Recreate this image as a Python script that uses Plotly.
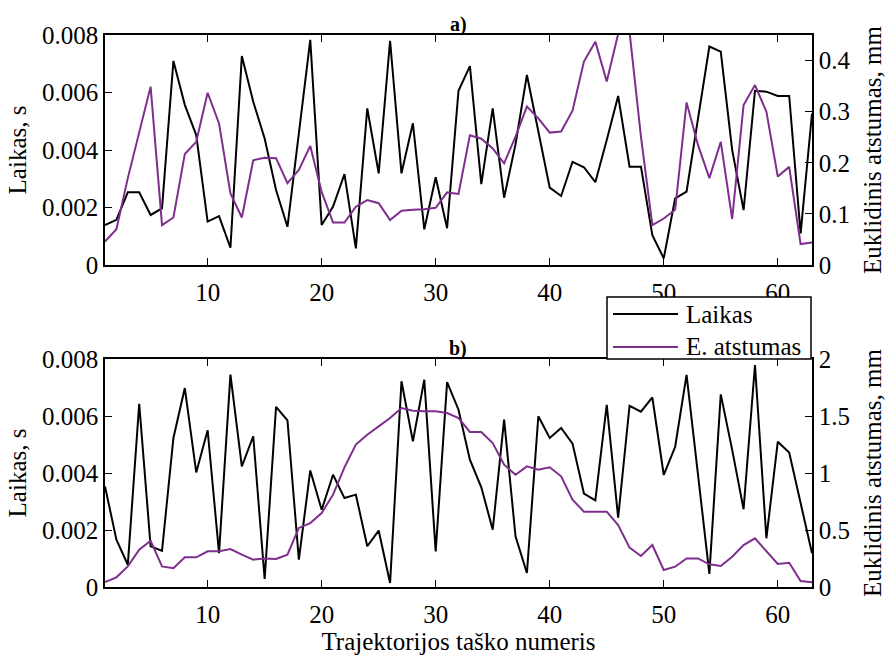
import plotly.graph_objects as go
from plotly.subplots import make_subplots

# Trajectory point numbers
taskai = list(range(1, 64))

# a) computation time (s) and Euclidean distance (mm)
laikas_a = [0.00139, 0.00157, 0.00253, 0.00253, 0.00174, 0.00197, 0.0071, 0.00557, 0.00452, 0.00151,
            0.0017, 0.0006, 0.00727, 0.00568, 0.0044, 0.00261, 0.00133, 0.0046, 0.00783, 0.00139,
            0.00203, 0.00316, 0.00058, 0.00545, 0.00319, 0.0078, 0.00319, 0.00493, 0.00124, 0.00305,
            0.00128, 0.00606, 0.00692, 0.00281, 0.00545, 0.00234, 0.0042, 0.00661, 0.00465, 0.00269,
            0.0024, 0.00359, 0.0034, 0.00288, 0.00435, 0.00588, 0.00342, 0.00342, 0.00104, 0.00023,
            0.00232, 0.00255, 0.00508, 0.0076, 0.00742, 0.0040, 0.00191, 0.00606, 0.00603, 0.00588,
            0.00588, 0.0011, 0.00527]
atstumas_a = [0.046, 0.070, 0.17, 0.26, 0.349, 0.078, 0.093, 0.217, 0.241, 0.337,
              0.277, 0.140, 0.093, 0.205, 0.210, 0.209, 0.160, 0.186, 0.233, 0.143,
              0.083, 0.083, 0.114, 0.127, 0.121, 0.088, 0.106, 0.108, 0.109, 0.112,
              0.142, 0.139, 0.254, 0.247, 0.228, 0.199, 0.251, 0.310, 0.287, 0.259,
              0.261, 0.302, 0.398, 0.437, 0.359, 0.452, 0.456, 0.251, 0.078, 0.091,
              0.108, 0.318, 0.235, 0.170, 0.241, 0.090, 0.313, 0.352, 0.300, 0.173,
              0.192, 0.041, 0.044]

# b) computation time (s) and Euclidean distance (mm)
laikas_b = [0.00353, 0.00166, 0.00078, 0.00643, 0.00143, 0.00127, 0.00523, 0.00698, 0.00402, 0.0055,
            0.00119, 0.00745, 0.00423, 0.00529, 0.00028, 0.00632, 0.00585, 0.00096, 0.00409, 0.00271,
            0.00394, 0.00312, 0.00324, 0.00143, 0.00198, 0.00014, 0.00722, 0.00511, 0.00727, 0.00125,
            0.00719, 0.00622, 0.00447, 0.0035, 0.00201, 0.00587, 0.00178, 0.00049, 0.00599, 0.00523,
            0.00558, 0.00503, 0.00328, 0.00304, 0.00639, 0.00243, 0.00636, 0.00615, 0.00665, 0.00393,
            0.00492, 0.00744, 0.00395, 0.00046, 0.00676, 0.00481, 0.00273, 0.00779, 0.00171, 0.0051,
            0.00472, 0.00294, 0.00118]
atstumas_b = [0.044, 0.085, 0.181, 0.327, 0.406, 0.181, 0.164, 0.26, 0.26, 0.313,
              0.313, 0.333, 0.284, 0.24, 0.251, 0.246, 0.284, 0.518, 0.561, 0.649,
              0.81, 1.05, 1.249, 1.336, 1.409, 1.482, 1.57, 1.547, 1.541, 1.541,
              1.526, 1.482, 1.36, 1.36, 1.263, 1.073, 0.985, 1.058, 1.029, 1.05,
              0.971, 0.766, 0.661, 0.661, 0.661, 0.544, 0.345, 0.272, 0.368, 0.149,
              0.178, 0.251, 0.251, 0.199, 0.184, 0.266, 0.368, 0.427, 0.316, 0.202,
              0.213, 0.053, 0.041]

x_ticks = [10, 20, 30, 40, 50, 60]
laikas_ticks = [0, 0.002, 0.004, 0.006, 0.008]
atstumas_ticks_a = [0, 0.1, 0.2, 0.3, 0.4]
atstumas_ticks_b = [0, 0.5, 1, 1.5, 2]

serijos = ["Laikas", "E. atstumas"]

JUODA = "#000000"
VIOLETINE = "#7E2F8E"
FONT = "Liberation Serif"
FS = 25

fig = make_subplots(rows=2, cols=1, specs=[[{"secondary_y": True}], [{"secondary_y": True}]])

fig.add_trace(go.Scatter(x=taskai, y=laikas_a, mode="lines", name=serijos[0],
                         line=dict(color=JUODA, width=2)),
              row=1, col=1, secondary_y=False)
fig.add_trace(go.Scatter(x=taskai, y=atstumas_a, mode="lines", name=serijos[1],
                         line=dict(color=VIOLETINE, width=2)),
              row=1, col=1, secondary_y=True)
fig.add_trace(go.Scatter(x=taskai, y=laikas_b, mode="lines", name=serijos[0],
                         line=dict(color=JUODA, width=2)),
              row=2, col=1, secondary_y=False)
fig.add_trace(go.Scatter(x=taskai, y=atstumas_b, mode="lines", name=serijos[1],
                         line=dict(color=VIOLETINE, width=2)),
              row=2, col=1, secondary_y=True)

W, H = 887, 657
x0, x1 = 105 / W, 812 / W
ya = [1 - 265 / H, 1 - 35 / H]
yb = [1 - 587 / H, 1 - 359 / H]

txt = dict(family=FONT, size=FS, color="black")

xcommon = dict(range=[1, 63], tickvals=x_ticks, ticks="inside", ticklen=7, tickcolor="black",
               showline=True, linecolor="black", linewidth=1.5, mirror="ticks",
               showgrid=False, zeroline=False, domain=[x0, x1], automargin=False,
               tickfont=txt, ticklabelstandoff=4)
ycommon = dict(ticks="inside", ticklen=7, tickcolor="black", showline=True, linecolor="black",
               linewidth=1.5, showgrid=False, zeroline=False, automargin=False,
               tickfont=txt)

# Boxed legend placed over the top edge of the lower panel
px = lambda v: v / W
py = lambda v: 1 - v / H
leg_box = dict(type="rect", xref="paper", yref="paper", layer="above",
               x0=px(607), x1=px(811), y0=py(359), y1=py(297),
               fillcolor="white", line=dict(color="black", width=1.5))
leg_lines = [
    dict(type="line", xref="paper", yref="paper", layer="above",
         x0=px(613), x1=px(678), y0=py(yy), y1=py(yy), line=dict(color=c, width=2))
    for yy, c in [(314, JUODA), (347, VIOLETINE)]
]
leg_text = [
    dict(text=s, x=px(684), y=py(yy), xref="paper", yref="paper", xanchor="left",
         yanchor="middle", showarrow=False, font=txt)
    for s, yy in zip(serijos, [314, 346])
]

fig.update_layout(
    xaxis=dict(**xcommon),
    xaxis2=dict(**xcommon, title=dict(text="Trajektorijos taško numeris", font=txt, standoff=2)),
    yaxis=dict(**ycommon, range=[0, 0.008], tickvals=laikas_ticks, domain=ya, mirror=True,
               title=dict(text="Laikas, s", font=txt, standoff=8)),
    yaxis2=dict(**ycommon, range=[0, 0.45], tickvals=atstumas_ticks_a, side="right",
                title=dict(text="Euklidinis atstumas, mm", font=txt, standoff=14)),
    yaxis3=dict(**ycommon, range=[0, 0.008], tickvals=laikas_ticks, domain=yb, mirror=True,
                title=dict(text="Laikas, s", font=txt, standoff=8)),
    yaxis4=dict(**ycommon, range=[0, 2], tickvals=atstumas_ticks_b, side="right",
                title=dict(text="Euklidinis atstumas, mm", font=txt, standoff=14)),
    width=W, height=H, autosize=False,
    margin=dict(l=0, r=0, t=0, b=0, pad=0),
    paper_bgcolor="white", plot_bgcolor="white",
    font=txt,
    showlegend=False,
    shapes=[leg_box] + leg_lines,
    annotations=[
        dict(text="<b>a)</b>", x=(x0 + x1) / 2, y=ya[1], xref="paper", yref="paper",
             xanchor="center", yanchor="bottom", showarrow=False, yshift=-3,
             font=dict(family=FONT, size=20, color="black")),
        dict(text="<b>b)</b>", x=(x0 + x1) / 2, y=yb[1], xref="paper", yref="paper",
             xanchor="center", yanchor="bottom", showarrow=False, yshift=-3,
             font=dict(family=FONT, size=20, color="black")),
    ] + leg_text,
)

fig.write_html("out.html")
